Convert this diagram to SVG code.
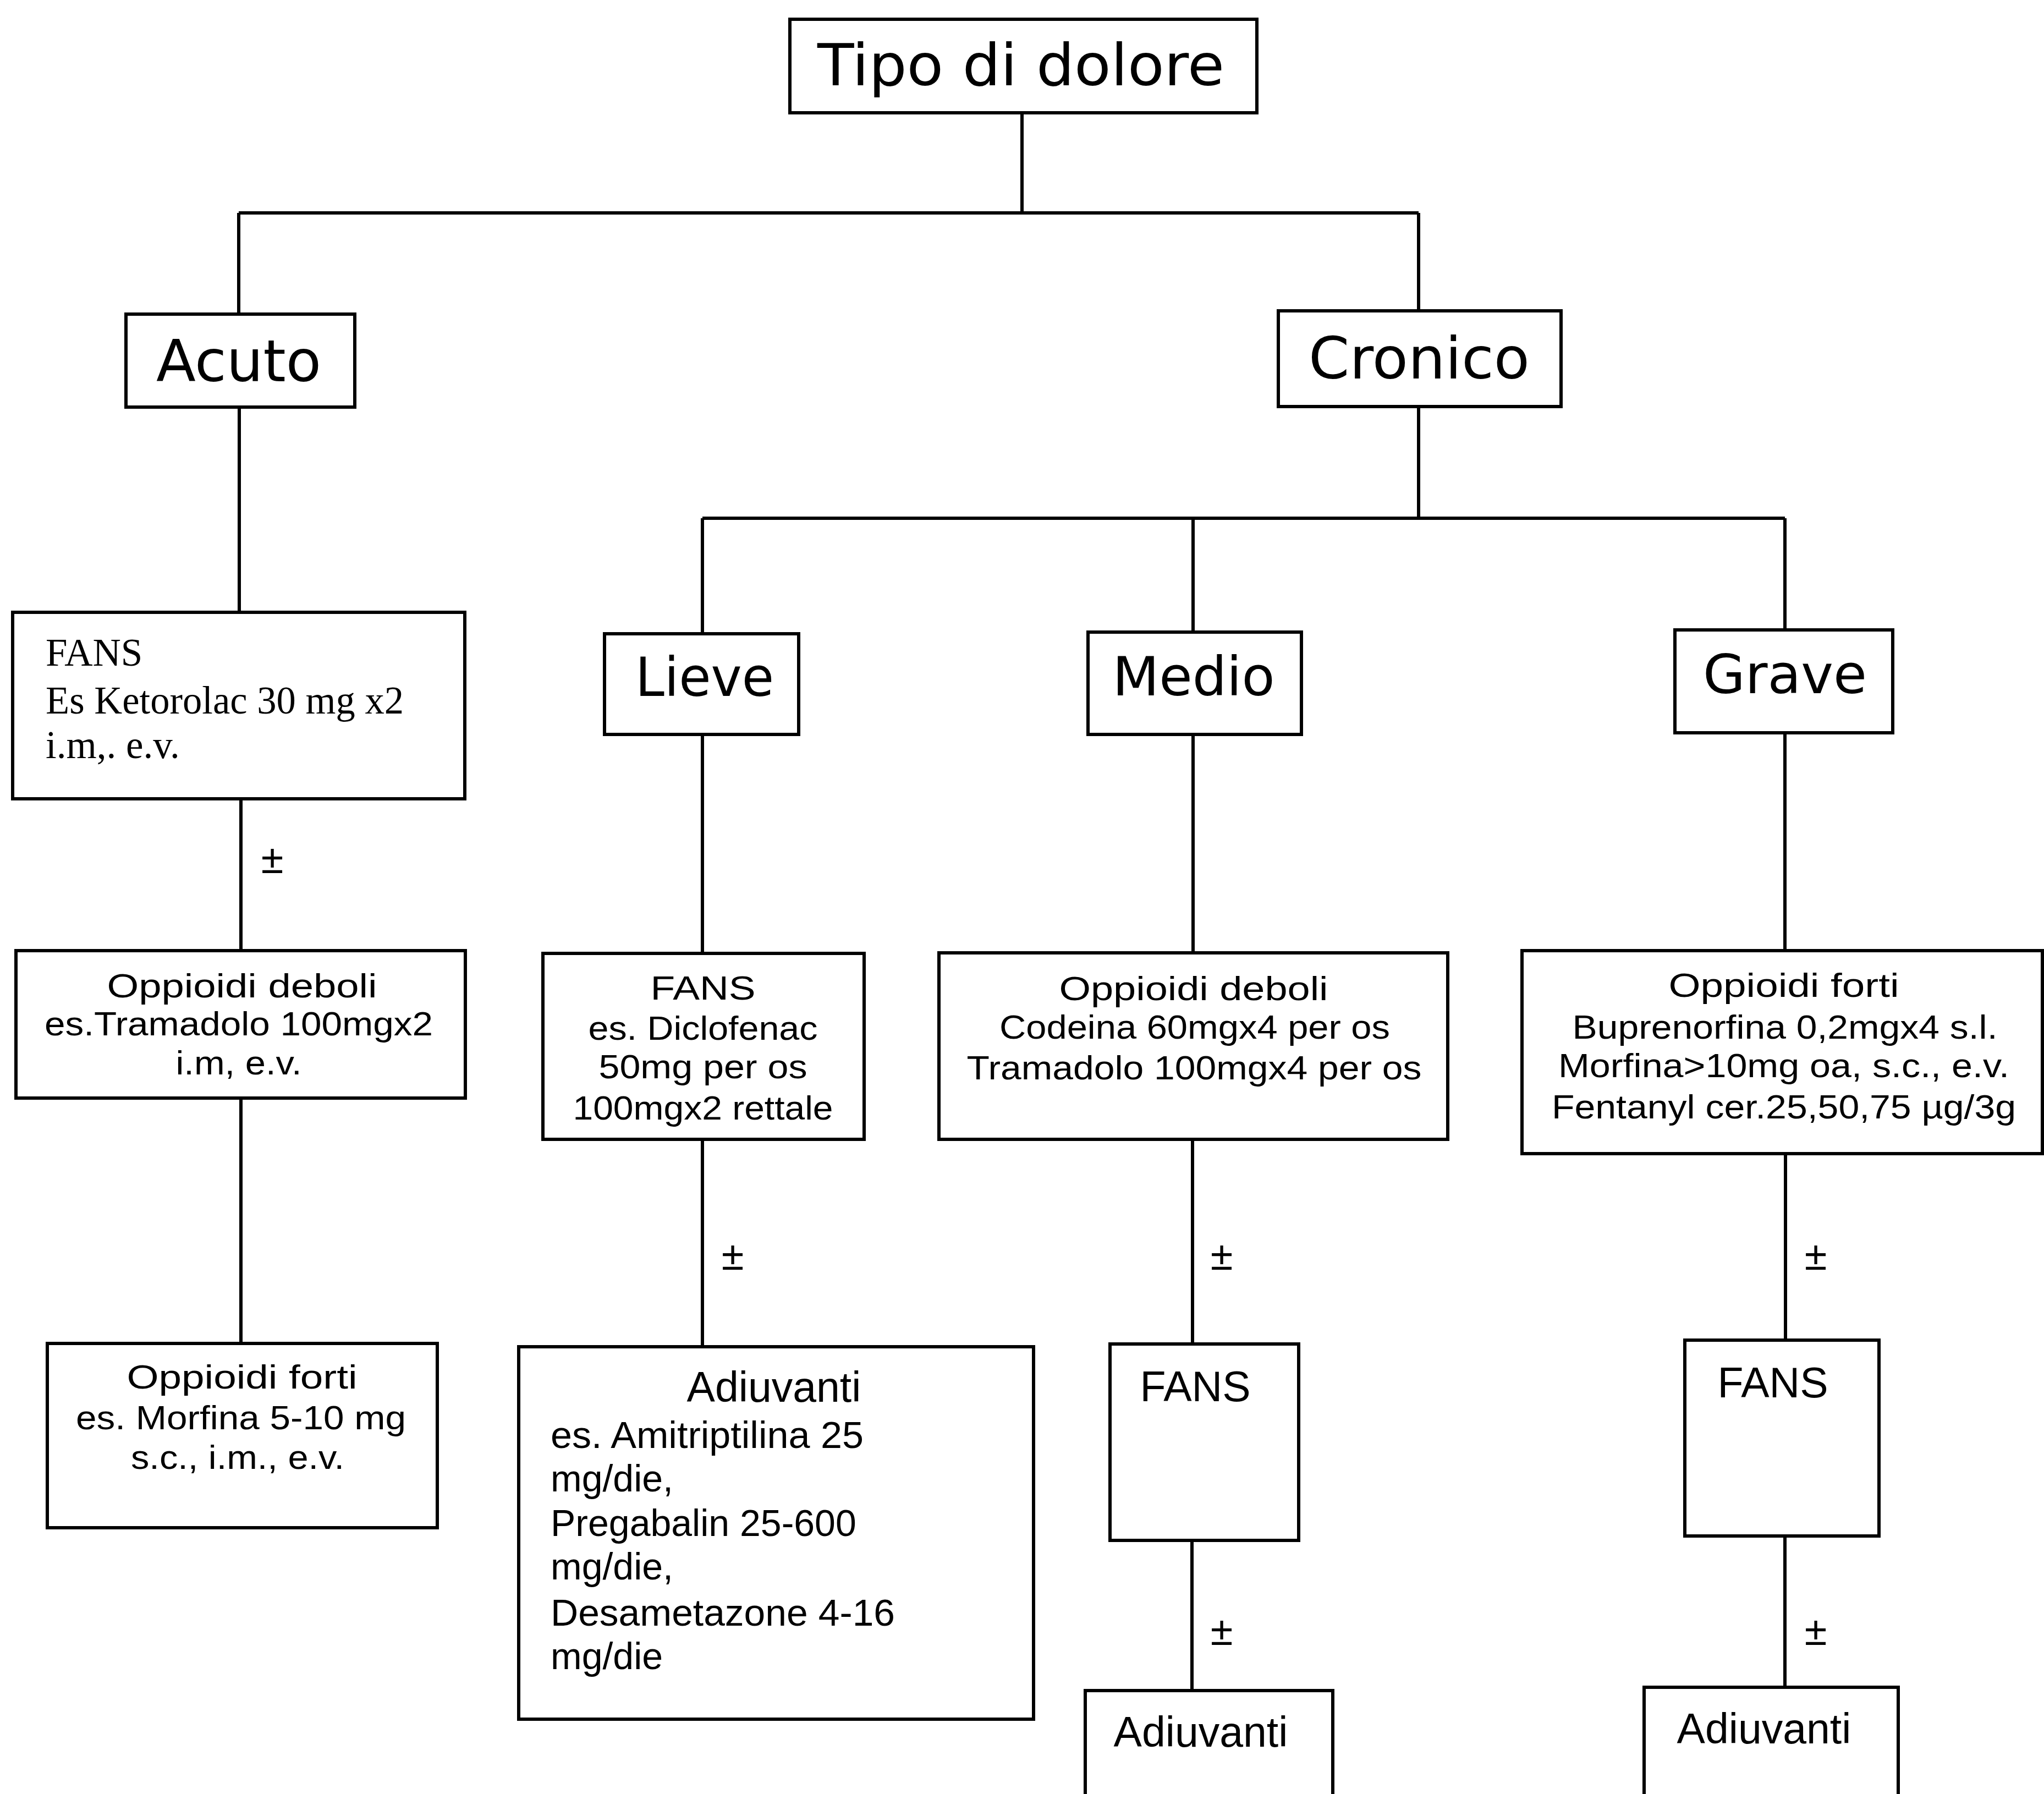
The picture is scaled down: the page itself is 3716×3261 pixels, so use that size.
<svg xmlns="http://www.w3.org/2000/svg" width="3716" height="3261" viewBox="0 0 3716 3261">
<style>
.box{fill:#fff;stroke:#000;stroke-width:6}
.ln{stroke:#000;stroke-width:6;fill:none}
.big{font-family:"DejaVu Sans",sans-serif;font-size:106px;fill:#000;text-anchor:middle}
.mid{font-family:"DejaVu Sans",sans-serif;font-size:98px;fill:#000;text-anchor:middle}
.t{font-family:"Liberation Sans",Arial,sans-serif;font-size:62px;fill:#000;text-anchor:middle}
.tl{font-family:"Liberation Sans",Arial,sans-serif;font-size:68px;fill:#000}
.h{font-family:"Liberation Sans",Arial,sans-serif;font-size:77px;fill:#000;text-anchor:middle}
.serif{font-family:"Liberation Serif","Times New Roman",serif;font-size:71px;fill:#000}
.pm{font-family:"Liberation Sans",Arial,sans-serif;font-size:74px;fill:#000;text-anchor:middle}
</style>
<rect width="3716" height="3261" fill="#fff"/>
<g id="connectors">
<path class="ln" d="M1858 204V387M434 387H2579M434 387V571M2579 387V565"/>
<path class="ln" d="M435 740V1113M438 1452V1728M438 1996V2442"/>
<path class="ln" d="M2579 739V942M1277 942H3245M1277 942V1152M2169 942V1149M3245 942V1145"/>
<path class="ln" d="M1277 1335V1733M1277 2071V2448"/>
<path class="ln" d="M2169 1335V1732M2168 2071V2443M2167 2800V3073"/>
<path class="ln" d="M3245 1332V1728M3246 2097V2436M3245 2792V3067"/>
<text class="pm" x="495" y="1587">±</text>
<text class="pm" x="1332" y="2308">±</text>
<text class="pm" x="2221" y="2308">±</text>
<text class="pm" x="3301" y="2308">±</text>
<text class="pm" x="2221" y="2990">±</text>
<text class="pm" x="3301" y="2990">±</text>
</g>
<g id="tipo">
<rect class="box" x="1436" y="35" width="849" height="170"/>
<text class="big" x="1856" y="155" textLength="740" lengthAdjust="spacingAndGlyphs">Tipo di dolore</text>
</g>
<g id="acuto">
<rect class="box" x="229" y="571" width="416" height="169"/>
<text class="big" x="434" y="693" textLength="300" lengthAdjust="spacingAndGlyphs">Acuto</text>
</g>
<g id="cronico">
<rect class="box" x="2324" y="565" width="514" height="174"/>
<text class="big" x="2580" y="688" textLength="402" lengthAdjust="spacingAndGlyphs">Cronico</text>
</g>
<g id="fans-acuto">
<rect class="box" x="23" y="1113" width="822" height="339"/>
<text class="serif" x="83" y="1210">FANS</text>
<text class="serif" x="83" y="1297" textLength="651" lengthAdjust="spacingAndGlyphs">Es Ketorolac 30 mg x2</text>
<text class="serif" x="83" y="1378">i.m,. e.v.</text>
</g>
<g id="oppdeb-acuto">
<rect class="box" x="29" y="1728" width="817" height="268"/>
<text class="t" x="440" y="1813" textLength="491" lengthAdjust="spacingAndGlyphs">Oppioidi deboli</text>
<text class="t" x="434" y="1882" textLength="706" lengthAdjust="spacingAndGlyphs">es.Tramadolo 100mgx2</text>
<text class="t" x="434" y="1953" textLength="229" lengthAdjust="spacingAndGlyphs">i.m, e.v.</text>
</g>
<g id="oppforti-acuto">
<rect class="box" x="86" y="2442" width="709" height="335"/>
<text class="t" x="440" y="2524" textLength="419" lengthAdjust="spacingAndGlyphs">Oppioidi forti</text>
<text class="t" x="438" y="2598" textLength="600" lengthAdjust="spacingAndGlyphs">es. Morfina 5-10 mg</text>
<text class="t" x="432" y="2670" textLength="388" lengthAdjust="spacingAndGlyphs">s.c., i.m., e.v.</text>
</g>
<g id="lieve">
<rect class="box" x="1099" y="1152" width="353" height="183"/>
<text class="mid" x="1281" y="1265" textLength="252" lengthAdjust="spacingAndGlyphs">Lieve</text>
</g>
<g id="medio">
<rect class="box" x="1978" y="1149" width="388" height="186"/>
<text class="mid" x="2170" y="1264" textLength="295" lengthAdjust="spacingAndGlyphs">Medio</text>
</g>
<g id="grave">
<rect class="box" x="3045" y="1145" width="396" height="187"/>
<text class="mid" x="3245" y="1260" textLength="298" lengthAdjust="spacingAndGlyphs">Grave</text>
</g>
<g id="fans-lieve">
<rect class="box" x="987" y="1733" width="584" height="338"/>
<text class="t" x="1278" y="1817" textLength="191" lengthAdjust="spacingAndGlyphs">FANS</text>
<text class="t" x="1278" y="1890" textLength="417" lengthAdjust="spacingAndGlyphs">es. Diclofenac</text>
<text class="t" x="1278" y="1960" textLength="379" lengthAdjust="spacingAndGlyphs">50mg per os</text>
<text class="t" x="1278" y="2035" textLength="473" lengthAdjust="spacingAndGlyphs">100mgx2 rettale</text>
</g>
<g id="adiuvanti-lieve">
<rect class="box" x="943" y="2448" width="936" height="677"/>
<text class="h" x="1407" y="2548">Adiuvanti</text>
<text class="tl" x="1001" y="2632" textLength="569" lengthAdjust="spacingAndGlyphs">es. Amitriptilina 25</text>
<text class="tl" x="1001" y="2711">mg/die,</text>
<text class="tl" x="1001" y="2792">Pregabalin 25-600</text>
<text class="tl" x="1001" y="2871">mg/die,</text>
<text class="tl" x="1001" y="2955" textLength="626" lengthAdjust="spacingAndGlyphs">Desametazone 4-16</text>
<text class="tl" x="1001" y="3034">mg/die</text>
</g>
<g id="oppdeb-medio">
<rect class="box" x="1707" y="1732" width="925" height="339"/>
<text class="t" x="2170" y="1818" textLength="489" lengthAdjust="spacingAndGlyphs">Oppioidi deboli</text>
<text class="t" x="2172" y="1888" textLength="710" lengthAdjust="spacingAndGlyphs">Codeina 60mgx4 per os</text>
<text class="t" x="2171" y="1962" textLength="827" lengthAdjust="spacingAndGlyphs">Tramadolo 100mgx4 per os</text>
</g>
<g id="fans-medio">
<rect class="box" x="2018" y="2443" width="343" height="357"/>
<text class="h" x="2173" y="2547">FANS</text>
</g>
<g id="adiuvanti-medio">
<rect class="box" x="1973" y="3073" width="450" height="260"/>
<text class="h" x="2183" y="3175">Adiuvanti</text>
</g>
<g id="oppforti-grave">
<rect class="box" x="2767" y="1728" width="946" height="369"/>
<text class="t" x="3243" y="1812" textLength="419" lengthAdjust="spacingAndGlyphs">Oppioidi forti</text>
<text class="t" x="3245" y="1888" textLength="773" lengthAdjust="spacingAndGlyphs">Buprenorfina 0,2mgx4 s.l.</text>
<text class="t" x="3243" y="1958" textLength="820" lengthAdjust="spacingAndGlyphs">Morfina&gt;10mg oa, s.c., e.v.</text>
<text class="t" x="3243" y="2033" textLength="844" lengthAdjust="spacingAndGlyphs">Fentanyl cer.25,50,75 µg/3g</text>
</g>
<g id="fans-grave">
<rect class="box" x="3063" y="2436" width="353" height="356"/>
<text class="h" x="3223" y="2540">FANS</text>
</g>
<g id="adiuvanti-grave">
<rect class="box" x="2989" y="3067" width="462" height="260"/>
<text class="h" x="3207" y="3169">Adiuvanti</text>
</g>
</svg>
